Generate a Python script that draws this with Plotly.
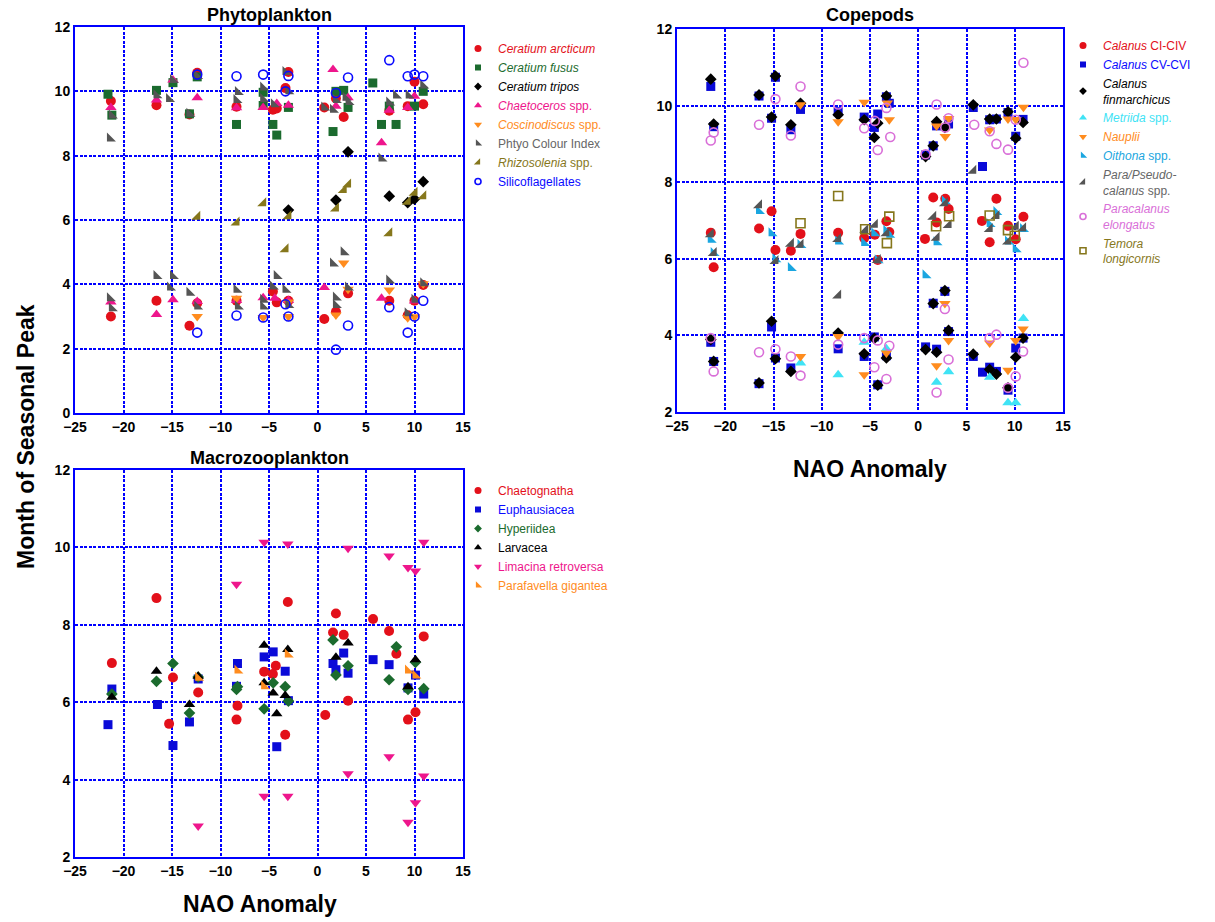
import plotly.graph_objects as go

# ---------------- Phytoplankton ----------------
ceratium_arcticum_x = [-21.3, -16.6, -13.2, -12.4, -8.35, -4.6, -4.2, -3.3, -3.0, 0.7, 1.9, 2.7, 7.4, 9.3, 10.0, 10.9,
                       -21.3, -16.6, -13.2, -12.4, -8.35, -4.6, -4.2, -3.0, 0.7, 1.9, 3.15, 7.4, 9.3, 10.0, 10.9]
ceratium_arcticum_y = [9.7, 9.57, 9.28, 10.58, 9.52, 9.43, 9.47, 10.1, 10.6, 9.5, 9.78, 9.2, 9.4, 9.54, 10.3, 9.6,
                       3.0, 3.49, 2.71, 3.41, 3.49, 3.78, 3.44, 3.49, 2.92, 3.15, 3.72, 3.49, 3.04, 3.49, 3.98]
ceratium_fusus_x = [-21.6, -21.2, -16.6, -14.9, -13.2, -12.4, -8.35, -5.6, -5.6, -4.6, -4.2, -3.0, 1.6, 1.9, 2.7,
                    3.15, 5.7, 6.6, 7.4, 8.1, 10.0, 10.9]
ceratium_fusus_y = [9.91, 9.26, 10.03, 10.27, 9.3, 10.45, 8.97, 9.97, 9.56, 8.97, 8.64, 9.5, 8.75, 10.0, 10.03,
                    9.5, 10.26, 8.97, 9.54, 8.97, 9.54, 10.0]
ceratium_tripos_x = [-3.0, 1.9, 3.15, 7.4, 9.3, 10.0, 10.9]
ceratium_tripos_y = [6.31, 6.62, 8.12, 6.74, 6.54, 6.65, 7.19]
chaetoceros_x = [-21.3, -16.6, -14.9, -12.4, -8.35, -5.6, -4.2, -3.0, 1.6, 1.9, 3.15, 6.6, 7.4, 9.3, 10.0,
                 -21.3, -16.6, -14.9, -12.4, -8.35, -5.6, -4.4, -3.0, 0.7, 6.6, 10.0]
chaetoceros_y = [9.5, 9.73, 10.35, 9.8, 9.49, 9.5, 9.62, 9.57, 10.68, 9.54, 9.8, 8.4, 9.41, 9.5, 9.85,
                 3.45, 3.06, 3.52, 3.47, 3.5, 3.58, 3.57, 3.5, 3.9, 3.57, 3.48]
coscinodiscus_x = [-12.4, -8.35, -5.6, -3.0, -3.0, 1.9, 2.7, 3.15, 7.4, 9.3, 10.0, 10.9]
coscinodiscus_y = [3.0, 3.57, 2.97, 3.0, 3.45, 3.05, 4.66, 3.85, 3.82, 2.96, 2.99, 4.02]
pci_x = [-21.4, -21.2, -16.6, -15.3, -14.9, -13.2, -12.4, -8.35, -8.2, -5.6, -5.6, -4.5, -3.3, -3.0, 0.7, 1.6,
         1.9, 2.9, 3.2, 6.6, 7.4, 8.1, 9.4, 10.9,
         -21.4, -21.2, -16.6, -15.2, -14.9, -13.2, -12.4, -8.35, -8.2, -5.6, -5.6, -4.6, -4.2, -3.3, -3.0, 1.6,
         1.9, 1.9, 2.7, 3.15, 7.4, 9.3, 10.0, 10.9]
pci_y = [8.53, 9.25, 9.88, 9.76, 10.35, 9.3, 10.48, 9.73, 9.98, 10.12, 9.76, 9.6, 10.6, 10.0, 9.5, 9.43,
         9.73, 9.8, 9.67, 7.91, 9.65, 9.87, 9.87, 10.18,
         3.57, 3.26, 4.26, 3.9, 4.26, 3.74, 3.31, 3.83, 3.31, 3.52, 3.31, 3.93, 4.26, 3.83, 3.36, 4.65,
         3.59, 3.36, 5.0, 3.9, 4.12, 3.1, 3.52, 4.03]
rhizosolenia_x = [-12.4, -8.35, -5.6, -3.3, -3.0, 1.9, 2.7, 3.15, 7.4, 9.3, 10.0, 10.9]
rhizosolenia_y = [6.1, 5.92, 6.52, 5.09, 6.12, 6.36, 6.93, 7.1, 5.59, 6.57, 6.85, 6.74]
silico_x = [-12.4, -8.35, -5.6, -3.3, -3.0, 1.9, 3.15, 7.4, 9.3, 10.0, 10.9,
            -12.4, -8.35, -5.6, -3.3, -3.0, 1.9, 3.15, 7.4, 9.3, 10.0, 10.9]
silico_y = [10.52, 10.47, 10.52, 10.0, 10.48, 9.95, 10.43, 10.97, 10.47, 10.52, 10.47,
            2.5, 3.03, 2.97, 3.38, 3.0, 1.97, 2.72, 3.29, 2.5, 3.0, 3.49]

# ---------------- Copepods ----------------
cal_ci_x = [-21.5, -21.2, -16.5, -15.2, -14.8, -13.2, -12.2, -8.3, -5.6, -4.5, -4.2, -3.3, -3.0, 0.7, 1.55,
            1.9, 2.8, 3.15, 6.6, 7.4, 8.1, 9.3, 10.1, 10.9]
cal_ci_y = [6.68, 5.78, 6.79, 7.24, 6.23, 6.21, 6.65, 6.68, 6.54, 6.63, 5.97, 6.98, 6.7, 6.52, 7.6,
            6.95, 7.57, 7.3, 6.99, 6.43, 7.57, 6.86, 6.51, 7.1]
cal_cv_x = [-21.5, -21.2, -16.5, -15.2, -14.8, -13.2, -12.2, -8.3, -5.6, -4.55, -4.2, -3.3, -3.0, 0.76, 1.55,
            1.9, 3.14, 5.7, 6.66, 7.4, 8.1, 9.3, 10.1, 10.86,
            -21.5, -21.2, -16.5, -15.2, -14.8, -13.2, -8.3, -5.6, -4.55, -4.2, -3.3, 0.76, 1.9, 2.76, 1.55,
            3.14, 5.7, 6.66, 7.4, 8.1, 9.3, 10.1, 10.86]
cal_cv_y = [10.5, 9.45, 10.25, 9.67, 10.74, 9.37, 9.9, 9.84, 9.7, 9.43, 9.78, 10.23, 10.06, 8.71, 8.95,
            9.47, 9.52, 9.95, 8.41, 9.63, 9.65, 9.82, 9.2, 9.64,
            3.82, 3.32, 2.74, 4.22, 3.41, 3.15, 3.65, 3.45, 3.96, 2.71, 3.47, 3.7, 3.64, 5.15, 4.84,
            4.1, 3.45, 3.04, 3.17, 3.06, 2.57, 3.67, 3.93]
cal_fin_x = [-21.5, -21.2, -16.5, -14.8, -15.2, -13.2, -12.2, -8.3, -5.6, -4.55, -4.2, -3.3, 0.76, 1.55, 1.9,
             2.76, 5.7, 7.4, 8.1, 9.3, 10.1, 10.86,
             -21.5, -21.2, -16.5, -15.2, -14.8, -13.2, -8.3, -5.6, -4.55, -4.2, -3.3, 0.76, 1.9, 2.76, 1.55,
             3.14, 5.7, 7.4, 8.1, 9.3, 10.1, 10.86]
cal_fin_y = [10.69, 9.52, 10.28, 10.77, 9.7, 9.5, 10.06, 9.76, 9.63, 9.17, 9.54, 10.25, 8.67, 8.95, 9.58,
             9.43, 10.02, 9.65, 9.65, 9.84, 9.15, 9.56,
             3.89, 3.32, 2.76, 4.37, 3.39, 3.06, 4.06, 3.52, 3.92, 2.7, 3.41, 3.63, 3.56, 5.17, 4.83,
             4.13, 3.51, 3.11, 2.99, 2.63, 3.43, 3.93]
metridia_x = [-12.2, -8.3, -5.6, -3.3, 1.9, 3.14, 7.4, 9.3, 10.1, 10.9]
metridia_y = [3.28, 2.97, 3.82, 3.65, 2.78, 3.05, 2.91, 2.24, 2.24, 4.44]
nauplii_x = [-12.2, -8.3, -5.6, -3.2, -3.0, 1.9, 2.8, 3.15, 7.4, 9.3, 10.1, 10.9,
             -12.2, -8.3, -5.6, -3.3, 1.9, 2.76, 3.14, 7.4, 9.3, 10.1, 10.86]
nauplii_y = [10.02, 9.58, 10.09, 10.07, 9.63, 9.47, 9.19, 9.66, 9.36, 9.65, 9.64, 9.96,
             3.45, 3.97, 2.97, 3.54, 3.21, 4.83, 3.87, 3.8, 3.09, 3.87, 4.17]
oithona_x = [-21.5, -21.2, -16.5, -15.2, -14.8, -13.2, -12.2, -8.3, -5.6, -4.55, -4.2, -3.3, -3.0, 0.76, 1.9,
             2.76, 7.4, 8.1, 9.3, 10.1, 10.86]
oithona_y = [6.5, 6.15, 7.25, 6.67, 5.99, 5.76, 6.36, 6.45, 6.41, 6.67, 5.96, 6.73, 6.63, 5.57, 6.43,
             7.5, 6.91, 7.22, 6.45, 6.25, 6.78]
para_x = [-21.5, -21.2, -16.5, -14.8, -13.2, -12.2, -8.3, -8.3, -5.5, -4.5, -4.2, -3.3, 1.55, 1.9, 2.76,
          3.14, 5.7, 7.4, 8.1, 9.3, 10.1, 10.86]
para_y = [6.64, 6.15, 7.4, 5.94, 6.39, 6.37, 5.04, 6.52, 6.75, 6.89, 5.97, 6.67, 7.1, 6.55, 7.45,
          6.88, 8.3, 6.78, 7.12, 6.45, 6.84, 6.8]
paracal_x = [-21.5, -21.2, -16.5, -14.8, -13.2, -12.2, -8.3, -5.6, -4.5, -4.2, -3.3, -2.9, 0.76, 1.9, 2.8,
             3.14, 5.8, 7.4, 8.1, 9.3, 10.1, 10.9,
             -21.5, -21.2, -16.5, -14.8, -13.2, -12.2, -8.3, -5.6, -4.55, -4.2, -3.3, -3.0, 1.9, 2.76, 3.14,
             7.4, 8.1, 9.3, 10.1, 10.86]
paracal_y = [9.09, 9.3, 9.5, 10.17, 9.22, 10.5, 10.03, 9.41, 9.6, 8.84, 9.94, 9.18, 8.73, 10.03, 9.43,
             9.67, 9.5, 9.33, 9.0, 8.85, 9.63, 11.12,
             3.93, 3.06, 3.56, 3.64, 3.45, 2.95, 3.76, 3.93, 3.17, 3.87, 2.86, 3.73, 2.51, 4.69, 3.37,
             3.93, 4.02, 2.63, 2.93, 3.58]
temora_x = [-12.2, -8.3, -5.5, -3.0, -3.25, 1.85, 3.2, 7.4, 9.3, 10.0]
temora_y = [6.93, 7.64, 6.77, 7.1, 6.41, 6.85, 7.11, 7.13, 6.75, 6.6]

# ---------------- Macrozooplankton ----------------
chaetognatha_x = [-21.2, -16.6, -15.3, -14.9, -12.3, -8.35, -8.25, -5.5, -4.6, -4.3, -3.33, -3.06, 0.8, 1.6,
                  1.9, 2.7, 3.15, 5.73, 7.38, 8.13, 9.33, 10.1, 10.95]
chaetognatha_y = [7.01, 8.69, 5.44, 6.64, 6.25, 5.55, 5.91, 6.79, 6.73, 6.94, 5.16, 8.59, 5.67, 7.8,
                  8.29, 7.74, 6.04, 8.15, 7.84, 7.25, 5.55, 5.74, 7.7]
euphausiacea_x = [-21.6, -21.2, -16.5, -14.9, -13.2, -12.3, -8.25, -8.35, -5.5, -4.57, -4.2, -3.33, -3.0, 1.6,
                  1.9, 2.7, 3.15, 5.73, 7.38, 9.33, 10.1, 10.95]
euphausiacea_y = [5.42, 6.34, 5.94, 4.88, 5.49, 6.6, 7.0, 6.41, 7.17, 7.3, 4.85, 6.8, 6.04, 7.0,
                  6.84, 7.27, 6.75, 7.1, 6.97, 6.37, 6.7, 6.21]
hyperiidea_x = [-21.2, -16.6, -14.9, -13.2, -12.3, -8.35, -8.25, -5.5, -4.57, -3.33, -3.0, 1.6, 1.9, 3.15,
                7.38, 8.13, 9.33, 10.1, 10.95]
hyperiidea_y = [6.21, 6.54, 7.0, 5.72, 6.65, 6.33, 6.4, 5.83, 6.5, 6.4, 6.03, 7.61, 6.7, 6.94,
                6.58, 7.43, 6.33, 7.03, 6.35]
larvacea_x = [-21.2, -16.6, -13.2, -12.3, -5.5, -5.5, -4.57, -4.2, -3.33, -3.06, 1.9, 3.15, 9.33, 10.1]
larvacea_y = [6.13, 6.8, 5.94, 6.67, 7.47, 6.5, 6.24, 5.7, 6.17, 7.36, 7.16, 7.53, 6.4, 7.1]
limacina_x = [-8.35, -5.5, -3.06, 3.15, 7.38, 9.33, 10.1, 10.95,
              -12.3, -5.5, -3.06, 3.15, 7.38, 9.33, 10.1, 10.95]
limacina_y = [9.05, 10.13, 10.09, 9.98, 9.78, 9.48, 9.39, 10.13,
              2.8, 3.57, 3.57, 4.15, 4.59, 2.9, 3.4, 4.09]
parafavella_x = [-12.3, -8.25, -5.5, -3.06, 9.33, 10.1]
parafavella_y = [6.63, 6.82, 6.41, 7.23, 6.82, 6.69]

x_ticks = [-25, -20, -15, -10, -5, 0, 5, 10, 15]

RED = "#e3101a"
GREEN = "#1b6b2e"
BLACK = "#000000"
PINK = "#ee168c"
ORANGE = "#ff8c1e"
GRAY = "#555555"
OLIVE = "#86771c"
BLUE = "#0a0aff"
CYAN = "#3fe3f5"
OITH = "#1aa6e0"
VIOLET = "#d96fd8"

FONT = "Arial, Liberation Sans, sans-serif"


def lab(text, color):
    return f'<span style="color:{color}">{text}</span>'


fig = go.Figure()


def add(x, y, name, symbol, color, size, xa, ya, legend, open_=False):
    def mk(sz):
        if open_:
            return dict(symbol=symbol, size=sz, color=color, line=dict(color=color, width=1.6))
        return dict(symbol=symbol, size=sz, color=color, line=dict(width=0))
    fig.add_trace(go.Scatter(x=x, y=y, mode="markers", name=name, marker=mk(size),
                             xaxis=xa, yaxis=ya, showlegend=False))
    # legend entry with smaller symbol (no data)
    fig.add_trace(go.Scatter(x=[None], y=[None], mode="markers", name=name, marker=mk(size - 3),
                             xaxis=xa, yaxis=ya, legend=legend, showlegend=True, hoverinfo="skip"))


# Phytoplankton
add(ceratium_arcticum_x, ceratium_arcticum_y, lab("<i>Ceratium arcticum</i>", RED), "circle", RED, 10, "x", "y", "legend")
add(ceratium_fusus_x, ceratium_fusus_y, lab("<i>Ceratium fusus</i>", GREEN), "square", GREEN, 9, "x", "y", "legend")
add(ceratium_tripos_x, ceratium_tripos_y, lab("<i>Ceratium tripos</i>", BLACK), "diamond", BLACK, 9, "x", "y", "legend")
add(chaetoceros_x, chaetoceros_y, lab("<i>Chaetoceros</i> spp.", PINK), "triangle-up", PINK, 10, "x", "y", "legend")
add(coscinodiscus_x, coscinodiscus_y, lab("<i>Coscinodiscus</i> spp.", ORANGE), "triangle-down", ORANGE, 10, "x", "y", "legend")
add(pci_x, pci_y, lab("Phtyo Colour Index", "#666666"), "triangle-sw", GRAY, 10, "x", "y", "legend")
add(rhizosolenia_x, rhizosolenia_y, lab("<i>Rhizosolenia</i> spp.", OLIVE), "triangle-se", OLIVE, 10, "x", "y", "legend")
add(silico_x, silico_y, lab("Silicoflagellates", BLUE), "circle-open", BLUE, 9, "x", "y", "legend", True)

# Copepods
add(cal_ci_x, cal_ci_y, lab("<i>Calanus</i> CI-CIV", RED), "circle", RED, 10, "x2", "y2", "legend2")
add(cal_cv_x, cal_cv_y, lab("<i>Calanus</i> CV-CVI", BLUE), "square", "#0a0ad8", 9, "x2", "y2", "legend2")
add(cal_fin_x, cal_fin_y, lab("<i>Calanus<br>finmarchicus</i>", BLACK), "diamond", BLACK, 9, "x2", "y2", "legend2")
add(metridia_x, metridia_y, lab("<i>Metriida</i> spp.", CYAN), "triangle-up", CYAN, 10, "x2", "y2", "legend2")
add(nauplii_x, nauplii_y, lab("<i>Nauplii</i>", ORANGE), "triangle-down", ORANGE, 10, "x2", "y2", "legend2")
add(oithona_x, oithona_y, lab("<i>Oithona</i> spp.", OITH), "triangle-sw", OITH, 10, "x2", "y2", "legend2")
add(para_x, para_y, lab("<i>Para/Pseudo-<br>calanus</i> spp.", "#666666"), "triangle-se", GRAY, 10, "x2", "y2", "legend2")
add(paracal_x, paracal_y, lab("<i>Paracalanus<br>elongatus</i>", VIOLET), "circle-open", VIOLET, 9, "x2", "y2", "legend2", True)
add(temora_x, temora_y, lab("<i>Temora<br>longicornis</i>", OLIVE), "square-open", OLIVE, 9, "x2", "y2", "legend2", True)

# Macrozooplankton
add(chaetognatha_x, chaetognatha_y, lab("Chaetognatha", RED), "circle", RED, 10, "x3", "y3", "legend3")
add(euphausiacea_x, euphausiacea_y, lab("Euphausiacea", BLUE), "square", "#0a0ad8", 9, "x3", "y3", "legend3")
add(hyperiidea_x, hyperiidea_y, lab("Hyperiidea", GREEN), "diamond", GREEN, 9, "x3", "y3", "legend3")
add(larvacea_x, larvacea_y, lab("Larvacea", BLACK), "triangle-up", BLACK, 10, "x3", "y3", "legend3")
add(limacina_x, limacina_y, lab("Limacina retroversa", PINK), "triangle-down", PINK, 10, "x3", "y3", "legend3")
add(parafavella_x, parafavella_y, lab("Parafavella gigantea", ORANGE), "triangle-sw", ORANGE, 10, "x3", "y3", "legend3")

W, H = 1215, 922


def px_x(p):
    return p / W


def px_y(p):
    return 1 - p / H


axis_common = dict(showgrid=True, gridcolor="#0000ff", griddash="3px,1.5px", gridwidth=2,
                   showline=True, linecolor="#0000ff", linewidth=2, mirror=True, automargin=False,
                   zeroline=False, ticks="", tickfont=dict(family=FONT, size=14, color="black", weight="bold"))

xax = dict(range=[-25, 15], tickvals=x_ticks, **axis_common)

leg_common = dict(xanchor="left", yanchor="top", bgcolor="rgba(0,0,0,0)",
                  font=dict(family=FONT, size=12), tracegroupgap=0, itemsizing="trace")

fig.update_layout(
    width=W, height=H,
    margin=dict(l=0, r=0, t=0, b=0, autoexpand=False),
    paper_bgcolor="white", plot_bgcolor="white",
    font=dict(family=FONT, size=12, color="black"),
    xaxis=dict(domain=[px_x(75), px_x(463)], anchor="y", **xax),
    yaxis=dict(domain=[px_y(413), px_y(27)], anchor="x", range=[0, 12], tickvals=[0, 2, 4, 6, 8, 10, 12], **axis_common),
    xaxis2=dict(domain=[px_x(677), px_x(1063)], anchor="y2", **xax),
    yaxis2=dict(domain=[px_y(412), px_y(29)], anchor="x2", range=[2, 12], tickvals=[2, 4, 6, 8, 10, 12], **axis_common),
    xaxis3=dict(domain=[px_x(75), px_x(463)], anchor="y3", **xax),
    yaxis3=dict(domain=[px_y(857), px_y(470)], anchor="x3", range=[2, 12], tickvals=[2, 4, 6, 8, 10, 12], **axis_common),
    legend=dict(x=px_x(458), y=px_y(34), **leg_common),
    legend2=dict(x=px_x(1063), y=px_y(31), **leg_common),
    legend3=dict(x=px_x(458), y=px_y(476), **leg_common),
    showlegend=True,
)

title_font = dict(family=FONT, size=18, color="black", weight="bold")
big_font = dict(family=FONT, size=23, color="black", weight="bold")
fig.add_annotation(text="Phytoplankton", x=px_x(269), y=px_y(15), xref="paper", yref="paper",
                   showarrow=False, font=title_font, xanchor="center", yanchor="middle")
fig.add_annotation(text="Copepods", x=px_x(870), y=px_y(15), xref="paper", yref="paper",
                   showarrow=False, font=title_font, xanchor="center", yanchor="middle")
fig.add_annotation(text="Macrozooplankton", x=px_x(269), y=px_y(458), xref="paper", yref="paper",
                   showarrow=False, font=title_font, xanchor="center", yanchor="middle")
fig.add_annotation(text="NAO Anomaly", x=px_x(870), y=px_y(469), xref="paper", yref="paper",
                   showarrow=False, font=big_font, xanchor="center", yanchor="middle")
fig.add_annotation(text="NAO Anomaly", x=px_x(260), y=px_y(904), xref="paper", yref="paper",
                   showarrow=False, font=big_font, xanchor="center", yanchor="middle")
fig.add_annotation(text="Month of Seasonal Peak", x=px_x(26), y=px_y(437), xref="paper", yref="paper",
                   showarrow=False, font=big_font, textangle=-90, xanchor="center", yanchor="middle")

fig.write_html("out.html", config={"displayModeBar": False},
               post_script="document.body.style.margin='0px';")
